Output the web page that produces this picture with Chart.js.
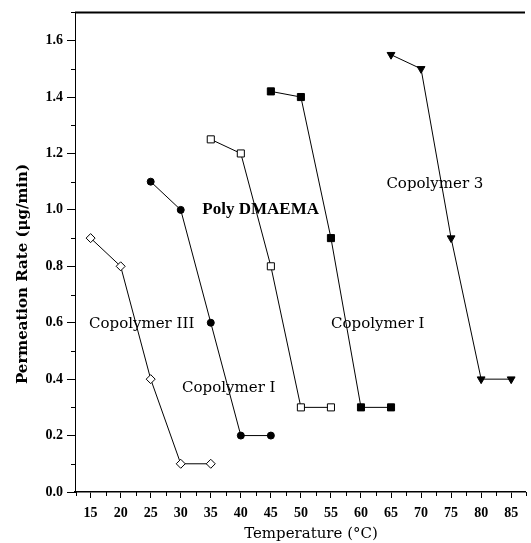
<!DOCTYPE html>
<html>
<head>
<meta charset="utf-8">
<script src="https://cdn.jsdelivr.net/npm/chart.js@4/dist/chart.umd.min.js"></script>
<style>
  html, body { margin: 0; padding: 0; background: #fff; }
  #wrap { width: 531px; height: 543px; }
</style>
</head>
<body>
<div id="wrap"><canvas id="chart"></canvas></div>
<script>
// data
const tempsCopoIII = [15, 20, 25, 30, 35];
const rateCopoIII = [0.9, 0.8, 0.4, 0.1, 0.1];

const tempsCopoIa = [25, 30, 35, 40, 45];
const rateCopoIa = [1.1, 1.0, 0.6, 0.2, 0.2];

const tempsDMAEMA = [35, 40, 45, 50, 55];
const rateDMAEMA = [1.25, 1.2, 0.8, 0.3, 0.3];

const tempsCopoIb = [45, 50, 55, 60, 65];
const rateCopoIb = [1.42, 1.4, 0.9, 0.3, 0.3];

const tempsCopo3 = [65, 70, 75, 80, 85];
const rateCopo3 = [1.55, 1.5, 0.9, 0.4, 0.4];

const xTicks = [15, 20, 25, 30, 35, 40, 45, 50, 55, 60, 65, 70, 75, 80, 85];
const yTicks = [0.0, 0.2, 0.4, 0.6, 0.8, 1.0, 1.2, 1.4, 1.6];

// text labels placed in data space
const labelText = ["Poly DMAEMA", "Copolymer 3", "Copolymer III", "Copolymer I", "Copolymer I"];
const labelX = [43.3, 72.3, 23.5, 38.0, 62.8];
const labelY = [1.0, 1.09, 0.595, 0.37, 0.595];
const labelBold = [true, false, false, false, false];

const pts = (xs, ys) => xs.map((x, i) => ({ x: x, y: ys[i] }));
const serif = "'Liberation Serif', 'DejaVu Serif', serif";
const wide = "'DejaVu Serif', serif";

function series(xs, ys, style, filled, radius, rot) {
  return {
    data: pts(xs, ys),
    borderColor: "#000",
    borderWidth: 1,
    pointStyle: style,
    pointRotation: rot || 0,
    pointRadius: radius,
    pointBorderWidth: 1,
    pointBorderColor: "#000",
    pointBackgroundColor: filled ? "#000" : "#fff",
    showLine: true,
    tension: 0
  };
}

const extras = {
  id: "extras",
  afterDraw(chart) {
    const ctx = chart.ctx;
    const a = chart.chartArea;
    const xs = chart.scales.x, ys = chart.scales.y;
    ctx.save();
    ctx.strokeStyle = "#000";
    // top frame line
    ctx.lineWidth = 2;
    ctx.beginPath();
    ctx.moveTo(a.left, a.top);
    ctx.lineTo(a.right, a.top);
    ctx.stroke();
    // minor ticks
    ctx.lineWidth = 1;
    ctx.beginPath();
    for (let v = 12.5; v < 88; v += 5) {
      const px = Math.round(xs.getPixelForValue(v)) + 0.5;
      ctx.moveTo(px, a.bottom);
      ctx.lineTo(px, a.bottom + 4);
    }
    for (let v = 0.1; v < 1.75; v += 0.2) {
      const py = Math.round(ys.getPixelForValue(v)) + 0.5;
      ctx.moveTo(a.left, py);
      ctx.lineTo(a.left - 4, py);
    }
    ctx.stroke();
    // annotations
    ctx.fillStyle = "#000";
    ctx.textAlign = "center";
    ctx.textBaseline = "middle";
    labelText.forEach((t, i) => {
      ctx.font = labelBold[i] ? "bold 17px " + serif : "15px " + wide;
      ctx.fillText(t, xs.getPixelForValue(labelX[i]), ys.getPixelForValue(labelY[i]));
    });
    // x title
    ctx.font = "15px " + wide;
    ctx.fillText("Temperature (\u00b0C)", 311, 534);
    // y title
    ctx.font = "bold 15px " + wide;
    ctx.translate(23, 274);
    ctx.rotate(-Math.PI / 2);
    ctx.fillText("Permeation Rate (\u03bcg/min)", 0, 0);
    ctx.restore();
  }
};

new Chart(document.getElementById("chart"), {
  type: "scatter",
  data: {
    datasets: [
      series(tempsCopoIII, rateCopoIII, "rectRot", false, 4.5),
      series(tempsCopoIa, rateCopoIa, "circle", true, 3.5),
      series(tempsDMAEMA, rateDMAEMA, "rect", false, 5),
      series(tempsCopoIb, rateCopoIb, "rect", true, 5),
      series(tempsCopo3, rateCopo3, "triangle", true, 4.5, 180)
    ]
  },
  options: {
    responsive: true,
    maintainAspectRatio: false,
    animation: false,
    events: [],
    layout: { padding: { top: 10, right: 0, left: 0, bottom: 0 } },
    plugins: { legend: { display: false }, tooltip: { enabled: false } },
    scales: {
      x: {
        type: "linear",
        min: 12.4,
        max: 87.3,
        afterBuildTicks: (s) => { s.ticks = xTicks.map(v => ({ value: v })); },
        afterFit: (s) => { s.height = 51; },
        grid: { display: true, drawOnChartArea: false, drawTicks: true, tickLength: 6, color: "#000" },
        border: { display: true, color: "#000", width: 1.5 },
        ticks: { color: "#000", padding: 7, font: { family: serif, size: 14, weight: "bold" }, maxRotation: 0 }
      },
      y: {
        type: "linear",
        min: 0,
        max: 1.7,
        afterBuildTicks: (s) => { s.ticks = yTicks.map(v => ({ value: v })); },
        afterFit: (s) => { s.width = 75; },
        grid: { display: true, drawOnChartArea: false, drawTicks: true, tickLength: 8, color: "#000" },
        border: { display: true, color: "#000", width: 1 },
        ticks: { color: "#000", padding: 4, font: { family: serif, size: 14, weight: "bold" }, callback: (v) => v.toFixed(1) }
      }
    }
  },
  plugins: [extras]
});
</script>
</body>
</html>
